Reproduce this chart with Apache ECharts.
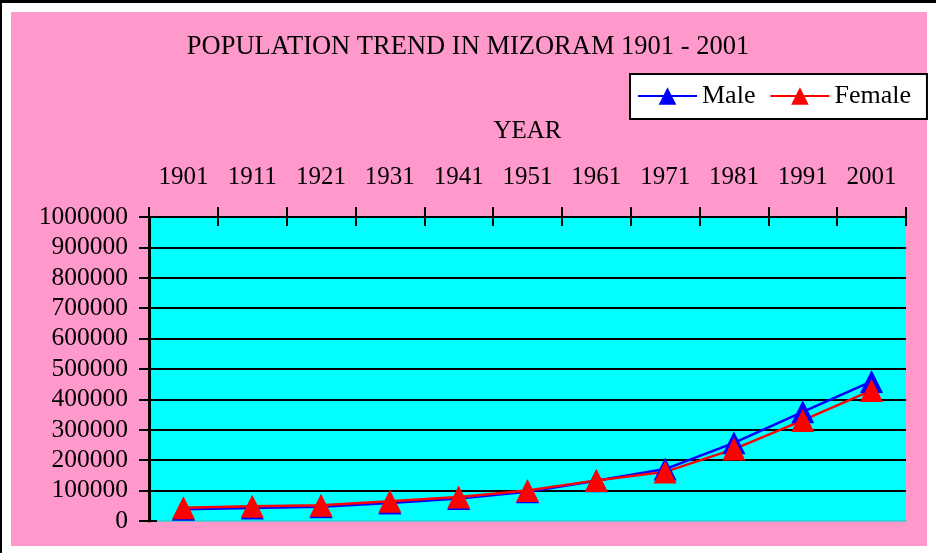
<!DOCTYPE html>
<html>
<head>
<meta charset="utf-8">
<script src="https://cdn.jsdelivr.net/npm/echarts@6/dist/echarts.min.js"></script>
<style>
  html, body { margin: 0; padding: 0; background: #ffffff; }
  #frame { position: absolute; left: 0; top: 0; width: 934px; height: 550px; border-top: 3px solid #000; border-left: 2px solid #000; }
  #panel { position: absolute; left: 11px; top: 12px; width: 916px; height: 534px; background: #FF99CC; }
  #chart { position: absolute; left: 0; top: 0; width: 936px; height: 553px; }
</style>
</head>
<body>
<div id="frame"></div>
<div id="panel"></div>
<div id="chart"></div>
<script>
const years = ['1901', '1911', '1921', '1931', '1941', '1951', '1961', '1971', '1981', '1991', '2001'];
const male = [39004, 43028, 46652, 59186, 73855, 96136, 132465, 170824, 257239, 358978, 459109];
const female = [43430, 48176, 51754, 65218, 78931, 100066, 133598, 161566, 236518, 330778, 429464];
const yMin = 0;
const yMax = 1000000;
const yStep = 100000;

const FONT = "'Liberation Serif', 'Times New Roman', serif";
const chart = echarts.init(document.getElementById('chart'), null, { renderer: 'canvas' });

const option = {
  animation: false,
  backgroundColor: 'transparent',
  title: {
    text: 'POPULATION TREND IN MIZORAM 1901 - 2001',
    left: 'center',
    top: 29,
    textStyle: { fontFamily: FONT, fontSize: 26.5, fontWeight: 'normal', color: '#000' }
  },
  legend: {
    data: ['Male', 'Female'],
    left: 630,
    top: 74,
    padding: [9, 16, 10, 7],
    itemGap: 14,
    itemWidth: 59,
    itemHeight: 22,
    backgroundColor: '#ffffff',
    borderColor: '#000000',
    borderWidth: 2,
    borderRadius: 0,
    textStyle: { fontFamily: FONT, fontSize: 26, color: '#000' }
  },
  grid: {
    left: 149, right: 30, top: 217, bottom: 32,
    show: true,
    backgroundColor: '#00FFFF',
    borderWidth: 0
  },
  xAxis: [
    {
      type: 'category',
      data: years,
      position: 'top',
      boundaryGap: true,
      name: 'YEAR',
      nameLocation: 'middle',
      nameGap: 73,
      nameTextStyle: { fontFamily: FONT, fontSize: 25, color: '#000' },
      axisLine: { onZero: false, lineStyle: { color: '#000', width: 2 } },
      axisTick: { show: true, inside: false, length: 10, alignWithLabel: false, lineStyle: { color: '#000', width: 2 } },
      axisLabel: { fontFamily: FONT, fontSize: 25, color: '#000', margin: 27, interval: 0 },
      splitLine: { show: false }
    },
    {
      type: 'category',
      data: years,
      position: 'top',
      boundaryGap: true,
      axisLine: { show: false, onZero: false },
      axisTick: { show: true, inside: true, length: 9, lineStyle: { color: '#000', width: 2 } },
      axisLabel: { show: false },
      splitLine: { show: false }
    },
    {
      type: 'category',
      data: years,
      position: 'bottom',
      boundaryGap: true,
      axisLine: { show: true, onZero: false, lineStyle: { color: '#33CCCC', width: 1.5 } },
      axisTick: { show: false },
      axisLabel: { show: false },
      splitLine: { show: false }
    }
  ],
  yAxis: [
    {
      type: 'value',
      min: yMin, max: yMax, interval: yStep,
      position: 'left',
      axisLine: { show: true, onZero: false, lineStyle: { color: '#000', width: 3 } },
      axisTick: { show: true, inside: false, length: 10, lineStyle: { color: '#000', width: 2 } },
      axisLabel: { fontFamily: FONT, fontSize: 25.5, color: '#000', margin: 21, formatter: function (v) { return String(v); } },
      splitLine: { show: true, showMinLine: false, lineStyle: { color: '#000', width: 2 } }
    },
    {
      type: 'value',
      min: yMin, max: yMax, interval: yStep,
      position: 'left',
      axisLine: { show: false, onZero: false },
      axisTick: { show: true, inside: true, length: 8, lineStyle: { color: '#000', width: 2 } },
      axisLabel: { show: false },
      splitLine: { show: false }
    }
  ],
  series: [
    {
      name: 'Male',
      type: 'line',
      data: male,
      xAxisIndex: 0,
      yAxisIndex: 0,
      symbol: 'triangle',
      symbolSize: [23, 23],
      color: '#0000FF',
      itemStyle: { color: '#0000FF' },
      lineStyle: { color: '#0000FF', width: 2.5 }
    },
    {
      name: 'Female',
      type: 'line',
      data: female,
      xAxisIndex: 0,
      yAxisIndex: 0,
      symbol: 'triangle',
      symbolSize: [23, 23],
      color: '#FF0000',
      itemStyle: { color: '#FF0000' },
      lineStyle: { color: '#FF0000', width: 2.5 }
    }
  ]
};
chart.setOption(option);
</script>
</body>
</html>
